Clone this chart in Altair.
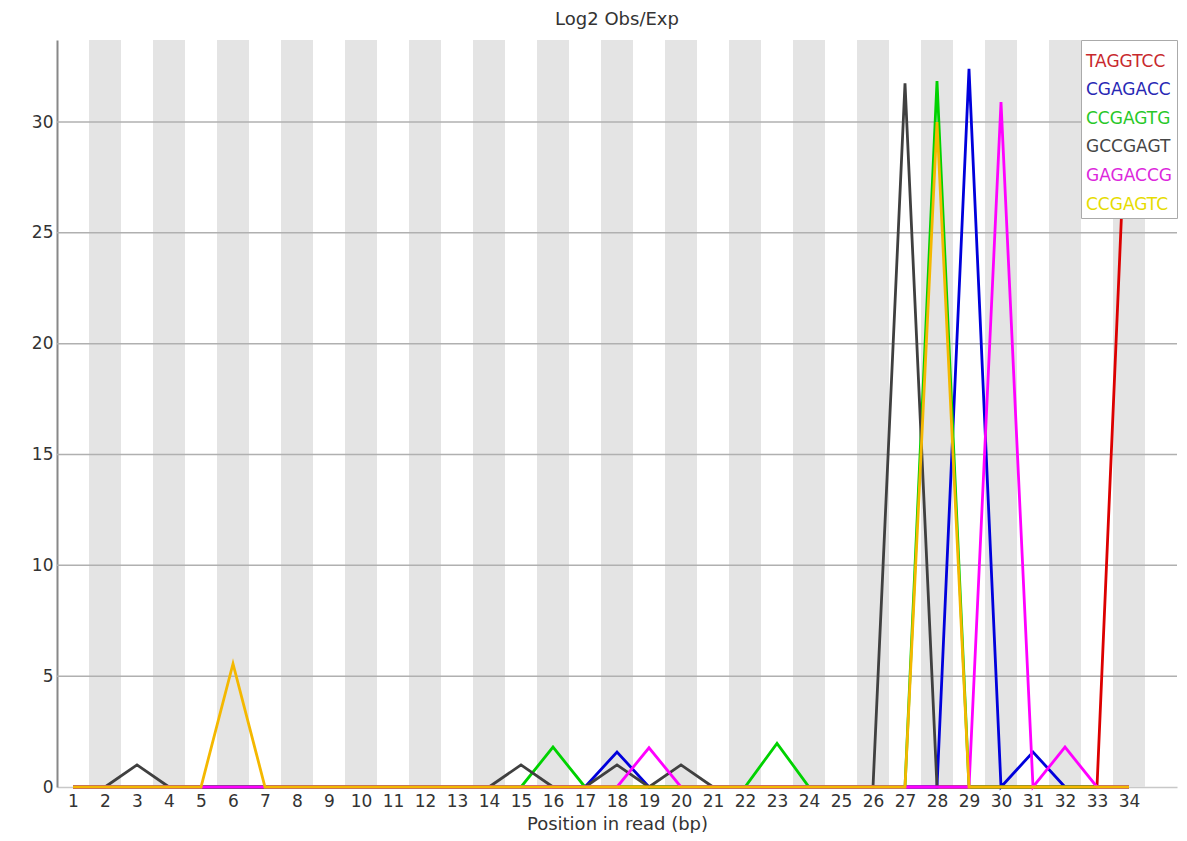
import altair as alt
import pandas as pd

positions = list(range(1, 35))
series_names = ["TAGGTCC", "CGAGACC", "CCGAGTG", "GCCGAGT", "GAGACCG", "CCGAGTC"]
line_colors = ["#dc0000", "#0000dc", "#00d200", "#404040", "#ff00ff", "#f4b800"]
label_colors = ["#c8282d", "#2828b4", "#28c828", "#464646", "#dc28dc", "#e6dc00"]

#            1  2  3    4  5  6     7  8  9 10 11 12 13 14 15   16   17 18    19    20   21 22 23    24 25 26 27     28     29    30    31    32    33 34
taggtcc = [0, 0, 0,   0, 0, 0,    0, 0, 0, 0, 0, 0, 0, 0, 0,   0,   0, 0,    0,    0,   0, 0, 0,    0, 0, 0, 0,     0,     0,    0,    0,    0,    0, 33.7]
cgagacc = [0, 0, 0,   0, 0, 0,    0, 0, 0, 0, 0, 0, 0, 0, 0,   0,   0, 1.58, 0,    0,   0, 0, 0,    0, 0, 0, 0,     0,     32.4, 0,    1.58, 0,    0, 0]
ccgagtg = [0, 0, 0,   0, 0, 0,    0, 0, 0, 0, 0, 0, 0, 0, 0,   1.8, 0, 0,    0,    0,   0, 0, 1.97, 0, 0, 0, 0,     31.85, 0,    0,    0,    0,    0, 0]
gccgagt = [0, 0, 1.0, 0, 0, 0,    0, 0, 0, 0, 0, 0, 0, 0, 1.0, 0,   0, 1.0,  0,    1.0, 0, 0, 0,    0, 0, 0, 31.75, 0,     0,    0,    0,    0,    0, 0]
gagaccg = [0, 0, 0,   0, 0, 0,    0, 0, 0, 0, 0, 0, 0, 0, 0,   0,   0, 0,    1.77, 0,   0, 0, 0,    0, 0, 0, 0,     0,     0,    30.9, 0,    1.8,  0, 0]
ccgagtc = [0, 0, 0,   0, 0, 5.56, 0, 0, 0, 0, 0, 0, 0, 0, 0,   0,   0, 0,    0,    0,   0, 0, 0,    0, 0, 0, 0,     30.0,  0,    0,    0,    0,    0, 0]

series_values = [taggtcc, cgagacc, ccgagtg, gccgagt, gagaccg, ccgagtc]
y_ticks = [0, 5, 10, 15, 20, 25, 30]
grid_values = [5, 10, 15, 20, 25, 30]
band_positions = [p for p in positions if p % 2 == 0]

rows = []
for name, vals in zip(series_names, series_values):
    for p, v in zip(positions, vals):
        rows.append({"pos": p, "value": v, "kmer": name})
df = pd.DataFrame(rows)

FONT = "DejaVu Sans"
xscale = alt.Scale(domain=[0.5, 35.5], nice=False, zero=False)
yscale = alt.Scale(domain=[0, 33.7], nice=False, zero=True)

x_axis = alt.Axis(
    values=positions, title="Position in read (bp)", grid=False, ticks=False,
    labelFontSize=17, labelFont=FONT, labelColor="#333", labelPadding=6,
    titleFontSize=18, titleFont=FONT, titleFontWeight="normal", titleColor="#333",
    titlePadding=6, domainColor="#c8c8c8", domainWidth=1.5, labelFlush=False,
)
y_axis = alt.Axis(
    values=y_ticks, title=None, grid=False, ticks=False,
    labelFontSize=17, labelFont=FONT, labelColor="#333", labelPadding=4,
    domainColor="#888888", domainWidth=2, labelFlush=False,
)

bands = alt.Chart(pd.DataFrame({"pos": band_positions})).transform_calculate(
    lo="datum.pos - 0.5", hi="datum.pos + 0.5"
).mark_rect(color="#e4e4e4").encode(
    x=alt.X("lo:Q", scale=xscale, axis=x_axis),
    x2="hi:Q",
)

grid = alt.Chart(pd.DataFrame({"v": grid_values})).mark_rule(
    color="#b0b0b0", strokeWidth=1.5
).encode(y=alt.Y("v:Q", scale=yscale, axis=y_axis))

label_expr = " : ".join(
    f"datum.value == '{n}' ? '{c}'" for n, c in zip(series_names, label_colors)
) + " : '#333'"

lines = alt.Chart(df).mark_line(strokeWidth=2.8).encode(
    x=alt.X("pos:Q", scale=xscale, axis=x_axis),
    y=alt.Y("value:Q", scale=yscale, axis=y_axis),
    color=alt.Color(
        "kmer:N",
        scale=alt.Scale(domain=series_names, range=line_colors),
        legend=alt.Legend(
            title=" ", titleFontSize=8, titlePadding=0, orient="none",
            legendX=1024, legendY=0, symbolSize=1, symbolOpacity=0,
            symbolStrokeWidth=0, labelOffset=alt.ExprRef(expr="-17"),
            labelFontSize=17, labelFont=FONT,
            labelColor=alt.ExprRef(expr=label_expr), fillColor="white",
            strokeColor="#aaaaaa", padding=5, rowPadding=10.6, labelLimit=0,
        ),
    ),
)

chart = alt.layer(bands, grid, lines).properties(
    width=1120,
    height=747,
    title=alt.TitleParams(
        "Log2 Obs/Exp", fontSize=18, font=FONT, fontWeight="normal",
        color="#333", offset=5, anchor="middle",
    ),
    autosize=alt.AutoSizeParams(type="none"),
    padding={"left": 49, "top": 32, "right": 2, "bottom": 46},
).configure_view(stroke=None)

chart.save("out.html", embed_options={"renderer": "svg", "actions": False})
